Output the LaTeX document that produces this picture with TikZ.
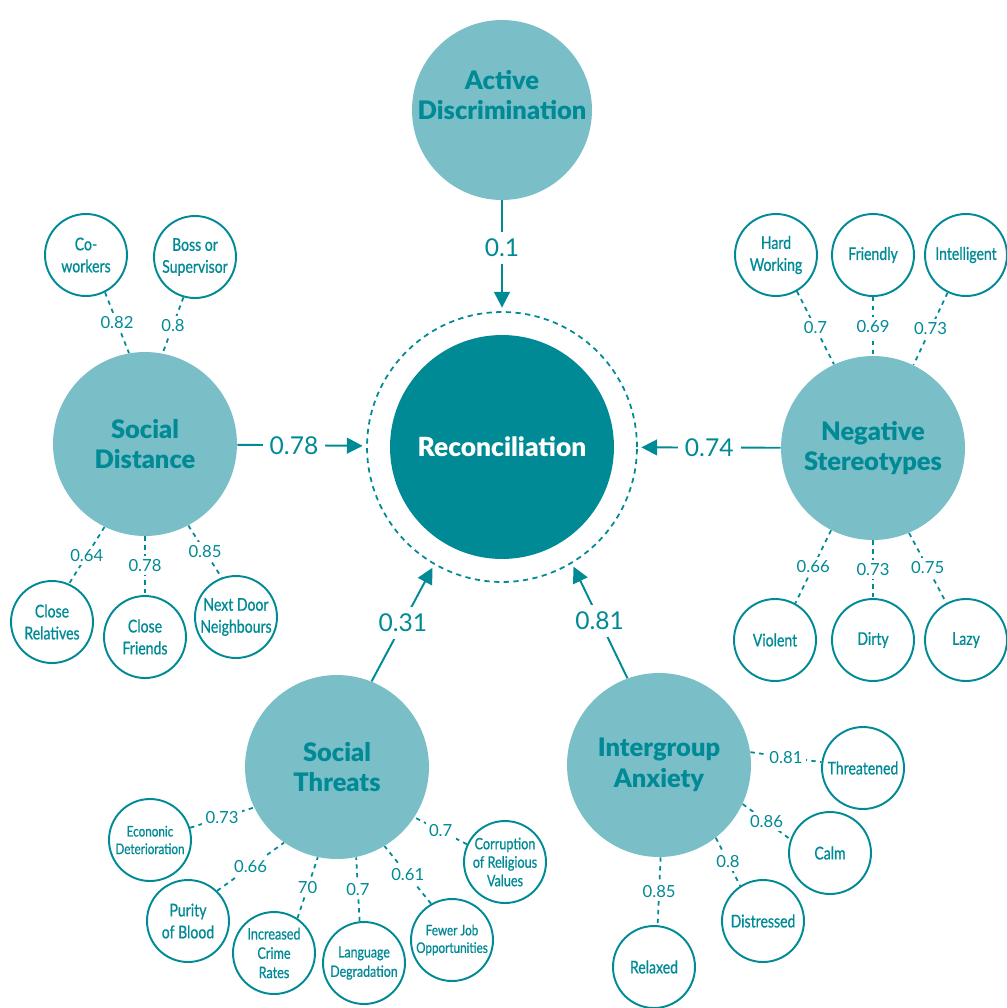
\documentclass[tikz,border=0pt]{standalone}
\usepackage{fontspec}
\setmainfont{Lato}
\newfontfamily\condfont[FakeStretch=0.8, FakeBold=0.8]{Lato}
\newfontfamily\heavyfont{Lato Black}
\usetikzlibrary{arrows.meta}
\definecolor{tealdark}{RGB}{0,138,150}
\definecolor{teallight}{RGB}{122,191,200}

\begin{document}
\begin{tikzpicture}[x=0.02cm, y=-0.02cm,
    hub/.style={circle, fill=tealdark, text=white, minimum size=4.48cm,
        font=\heavyfont\fontsize{15}{17}\selectfont, align=center},
    head/.style={text=tealdark, font=\heavyfont\fontsize{14.5}{17.5}\selectfont, align=center},
    factor/.style={circle, fill=teallight, minimum size=3.68cm, head},
    item/.style={circle, draw=tealdark, line width=1.1pt, text=tealdark,
        minimum size=1.64cm, inner sep=-6pt,
        font=\condfont\fontsize{10}{12.5}\selectfont, align=center},
    tiny/.style={font=\condfont\fontsize{8.3}{10}\selectfont},
    link/.style={draw=tealdark, line width=1.1pt,
        -{Triangle[length=9pt,width=9pt]}, shorten >=2pt},
    load/.style={draw=tealdark, line width=1pt, dash pattern=on 2.5pt off 2.5pt},
    val/.style={fill=white, text=tealdark, font=\fontsize{9.5}{11}\selectfont, inner sep=2pt},
    bigval/.style={fill=white, text=tealdark, font=\fontsize{14}{16}\selectfont, inner sep=4pt}]

    \useasboundingbox (0,0) rectangle (1007,1008);

    % centre
    \node[hub] (rec) at (502,447) {Reconciliation};
    \node[circle, draw=tealdark, line width=1pt, dash pattern=on 3pt off 2.5pt,
        minimum size=5.4cm] (ring) at (502,447) {};

    % factors
    \node[factor, minimum size=3.6cm,
        label={[head, yshift=0.3cm]center:Active\\Discrimination}] (ad) at (502,110) {};
    \node[factor] (sd) at (145,444) {Social\\Distance};
    \node[factor] (ns) at (873,448) {Negative\\Stereotypes};
    \node[factor] (st) at (337,767) {Social\\Threats};
    \node[factor] (ia) at (659,765) {Intergroup\\Anxiety};

    % social distance items
    \node[item] (cw) at (86,255) {Co-\\workers};
    \node[item] (bs) at (195,257) {Boss or\\Supervisor};
    \node[item] (cr) at (52,622) {Close\\Relatives};
    \node[item] (cf) at (145,637) {Close\\Friends};
    \node[item] (nd) at (236,617) {Next Door\\Neighbours};

    % stereotype items
    \node[item] (hw) at (776,255) {Hard\\Working};
    \node[item] (fr) at (873,255) {Friendly};
    \node[item] (in) at (966,255) {Intelligent};
    \node[item] (vi) at (775,640) {Violent};
    \node[item] (di) at (873,640) {Dirty};
    \node[item] (la) at (966,640) {Lazy};

    % threat items
    \node[item, tiny] (ed) at (150,840) {Econonic\\Deterioration};
    \node[item] (pb) at (188,921) {Purity\\of Blood};
    \node[item, font=\condfont\fontsize{9}{11}\selectfont] (ic) at (274,953) {Increased\\Crime\\Rates};
    \node[item, font=\condfont\fontsize{8.8}{11}\selectfont] (lg) at (364,963) {Language\\Degradation};
    \node[item, tiny] (fj) at (452,940) {Fewer Job\\Opportunities};
    \node[item, font=\condfont\fontsize{9}{10.5}\selectfont] (cv) at (505,862) {Corruption\\of Religious\\Values};

    % anxiety items
    \node[item] (th) at (863,768) {Threatened};
    \node[item] (ca) at (830,853) {Calm};
    \node[item] (ds) at (763,921) {Distressed};
    \node[item] (rx) at (654,967) {Relaxed};

    % #######################################

    \draw[link] (ad) -- node[bigval, pos=0.43] {0.1} (ring);
    \draw[link] (sd) -- node[bigval, pos=0.44] {0.78} (ring);
    \draw[link] (ns) -- node[bigval] {0.74} (ring);
    \draw[link] (st.68) -- node[bigval] {0.31} (ring.-120);
    \draw[link] (ia.110) -- node[bigval] {0.81} (ring.-59);

    \path[load] (cw.-63) -- node[val] {0.82} (sd.100);
    \path[load] (bs.-106) -- node[val] {0.8} (sd.79);
    \path[load] (sd.-116) -- node[val] {0.64} (cr.66);
    \path[load] (sd.-90) -- node[val] {0.78} (cf.90);
    \path[load] (sd.-62) -- node[val] {0.85} (nd.110);

    \path[load] (hw.-60) -- node[val] {0.7} (ns.115);
    \path[load] (fr.-90) -- node[val] {0.69} (ns.90);
    \path[load] (in.-116) -- node[val] {0.73} (ns.64);
    \path[load] (ns.-117) -- node[val] {0.66} (vi.61);
    \path[load] (ns.-90) -- node[val] {0.73} (di.90);
    \path[load] (ns.-67) -- node[val] {0.75} (la.118);

    \path[load] (ed.17) -- node[val] {0.73} (st.-154);
    \path[load] (pb.46) -- node[val] {0.66} (st.-125);
    \path[load] (ic.56) -- node[val] {70} (st.-102);
    \path[load] (lg.96) -- node[val] {0.7} (st.-78);
    \path[load] (fj.120) -- node[val] {0.61} (st.-59);
    \path[load] (cv.155) -- node[val] {0.7} (st.-33);

    \path[load] (ia.8) -- node[val] {0.81} (th.172);
    \path[load] (ia.-25) -- node[val] {0.86} (ca.161);
    \path[load] (ia.-52) -- node[val] {0.8} (ds.123);
    \path[load] (ia.-89) -- node[val] {0.85} (rx.85);

\end{tikzpicture}
\end{document}
